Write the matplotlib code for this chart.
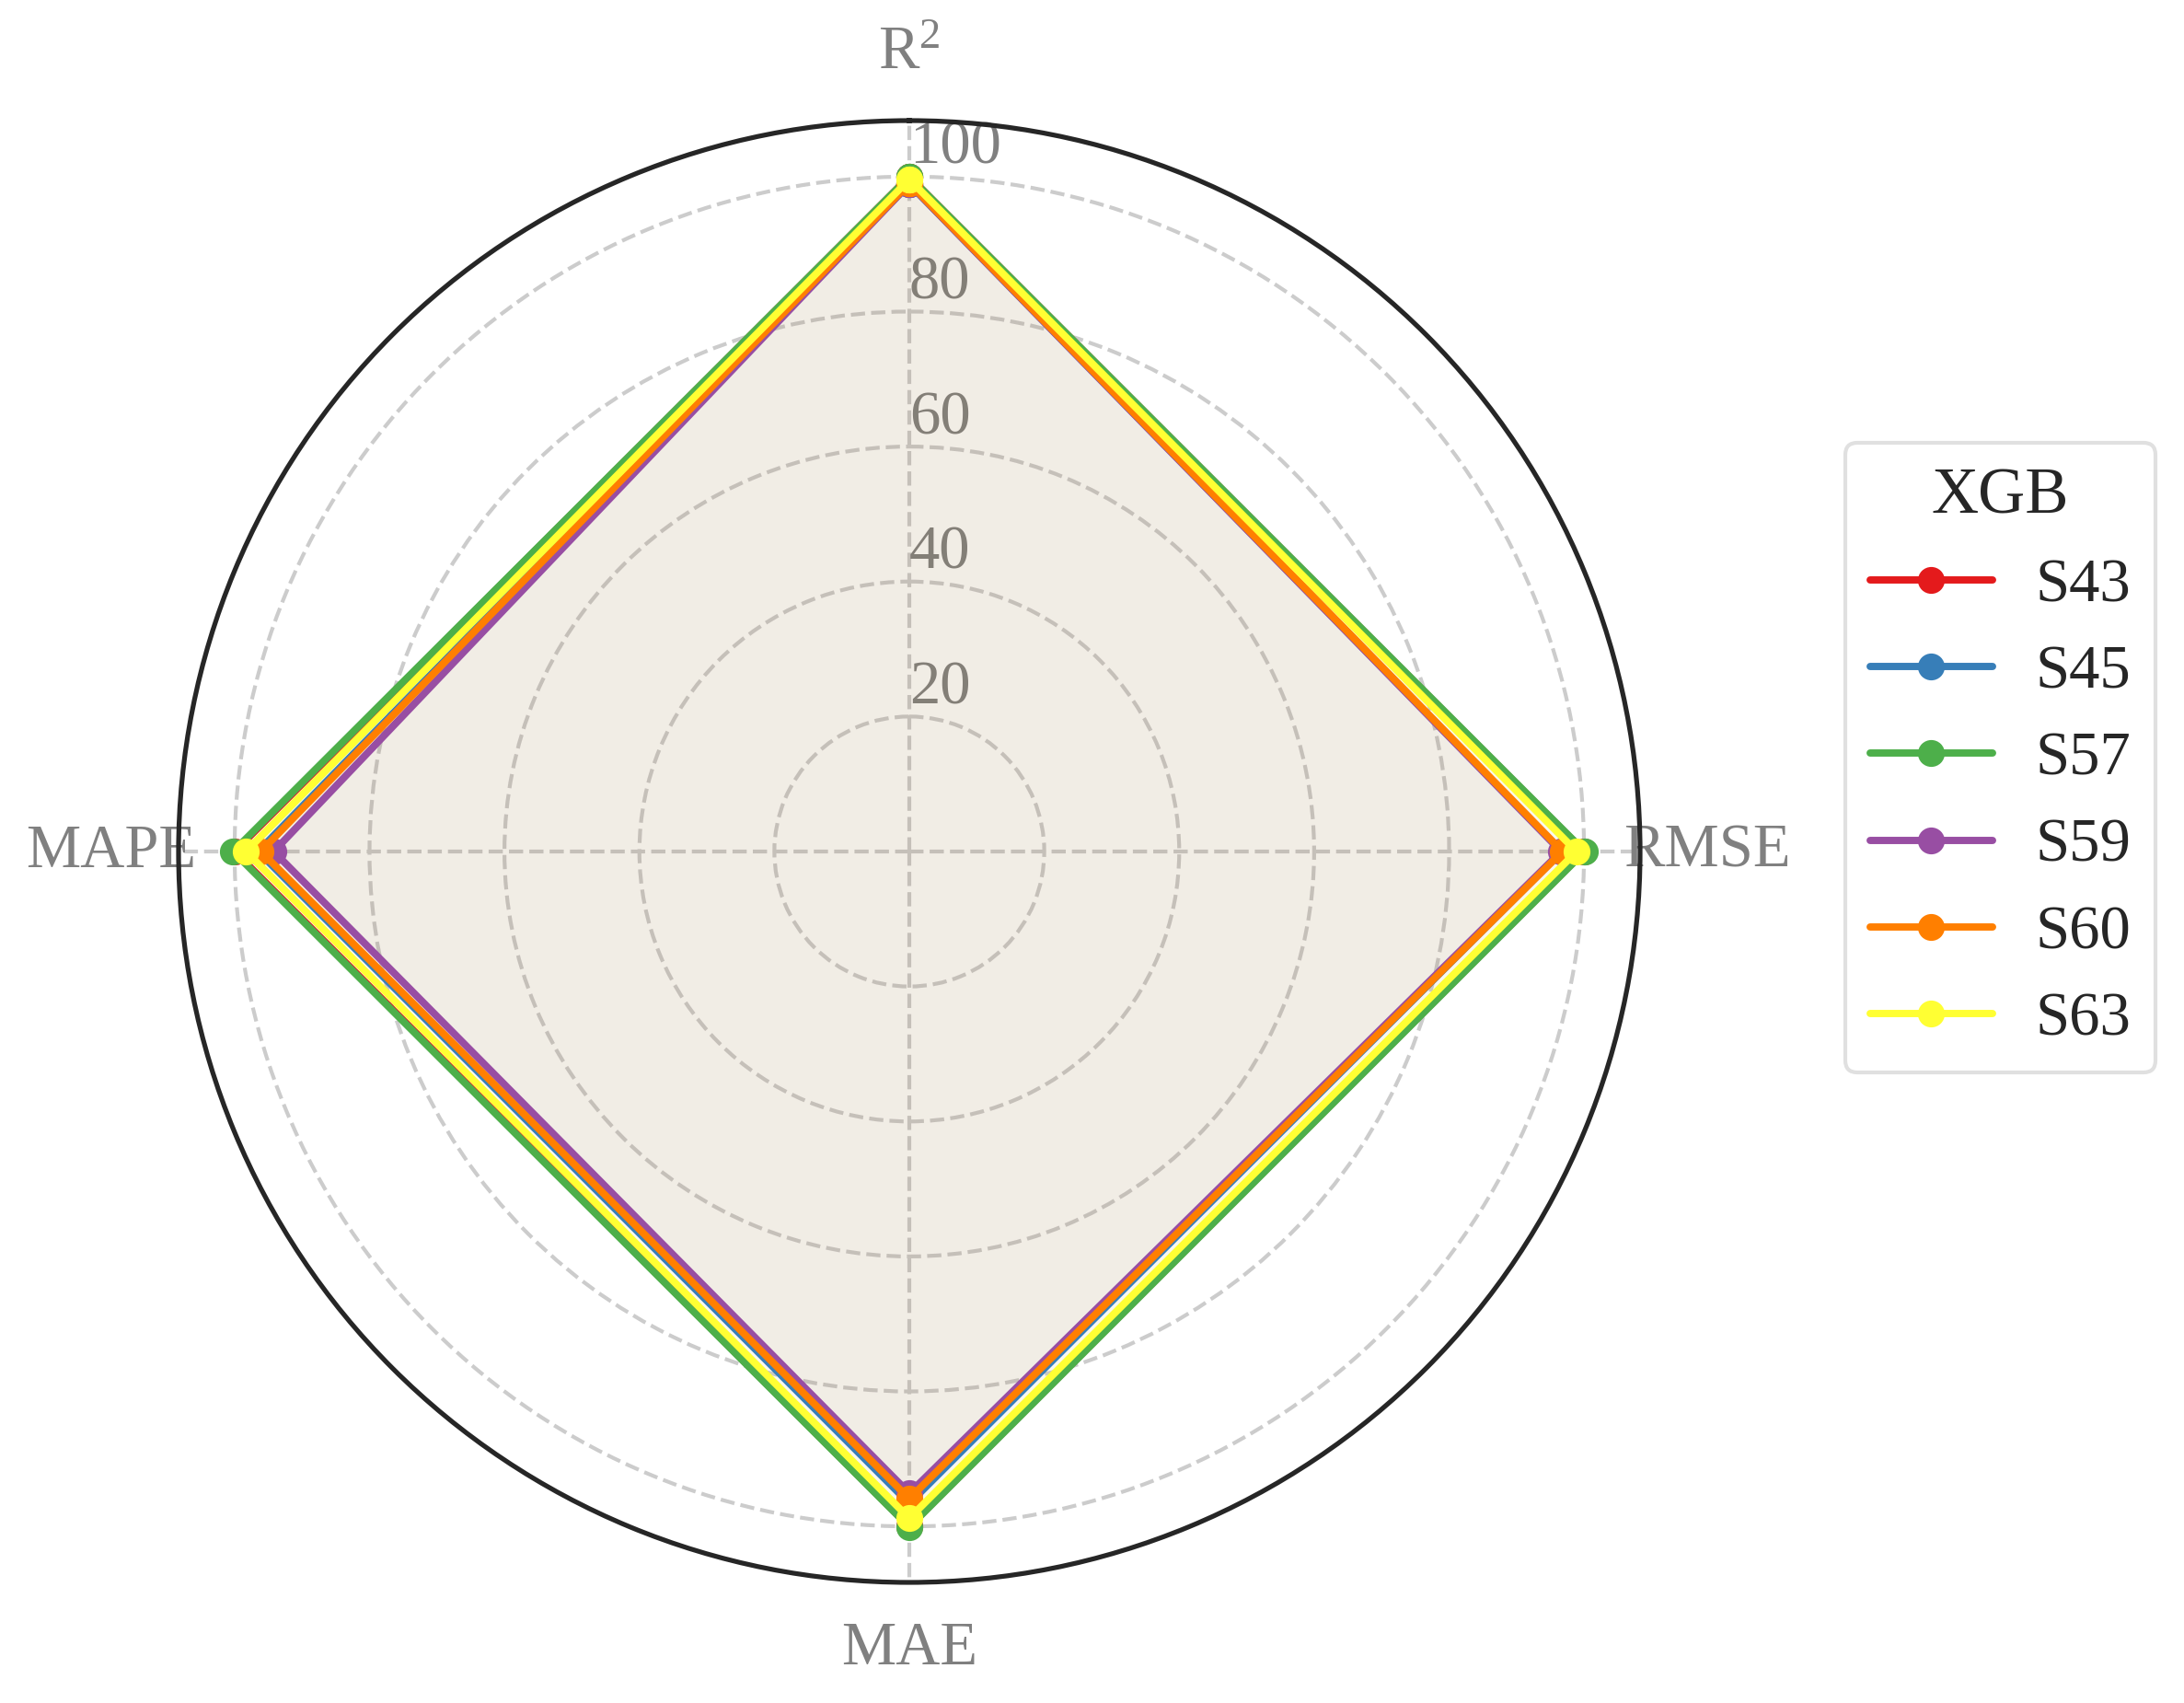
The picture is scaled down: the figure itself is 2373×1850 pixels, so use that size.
import numpy as np
import matplotlib
matplotlib.use("Agg")
import matplotlib.pyplot as plt
import seaborn as sns

# ---- data ----
categories = ["R$^2$", "RMSE", "MAE", "MAPE"]
series_names = ["S43", "S45", "S57", "S59", "S60", "S63"]
s43 = [100.0, 100.0, 100.0, 100.0]
s45 = [98.9, 96.7, 96.6, 96.5]
s57 = [100.0, 100.1, 100.1, 100.2]
s59 = [98.9, 96.6, 95.1, 94.2]
s60 = [99.0, 96.8, 95.9, 96.1]
s63 = [99.6, 98.9, 98.8, 98.3]
series_values = [s43, s45, s57, s59, s60, s63]
colors = ["#e41a1c", "#377eb8", "#4daf4a", "#984ea3", "#ff7f00", "#ffff33"]
r_ticks = [20, 40, 60, 80, 100]
legend_title = "XGB"

sns.set_style("whitegrid")
plt.rcParams["font.family"] = ["Liberation Serif", "DejaVu Serif"]
plt.rcParams["mathtext.fontset"] = "custom"
plt.rcParams["mathtext.rm"] = "Liberation Serif"
plt.rcParams["mathtext.it"] = "Liberation Serif:italic"
plt.rcParams["mathtext.bf"] = "Liberation Serif:bold"

W, H = 2373, 1850
fig = plt.figure(figsize=(W / 300, H / 300), dpi=300)
ax = fig.add_axes([194 / W, (H - 1719) / H, 1588 / W, 1588 / H], polar=True)
ax.set_theta_zero_location("N")
ax.set_theta_direction(-1)

n = len(categories)
angles = np.linspace(0, 2 * np.pi, n, endpoint=False).tolist()
angles_c = angles + angles[:1]

for name, vals, col in zip(series_names, series_values, colors):
    v = list(vals) + [vals[0]]
    ax.plot(angles_c, v, color=col, linewidth=1.9, marker="o", markersize=6,
            label=name, solid_joinstyle="miter")
    ax.fill(angles_c, v, color=col, alpha=0.025)

ax.set_ylim(0, 108.3)
ax.set_yticks(r_ticks)
ax.set_yticklabels([str(t) for t in r_ticks], fontsize=16, color="gray")
ax.set_rlabel_position(0)
ax.set_xticks(angles)
ax.set_xticklabels(categories, fontsize=16, color="gray")
ax.tick_params(axis="x", pad=7)
ax.grid(True, linestyle="--", color="0.8", linewidth=1.0)
ax.spines["polar"].set_color("0.15")
ax.spines["polar"].set_linewidth(1.25)

leg = fig.legend(loc="upper left", bbox_to_anchor=(2005 / W, 1 - 481 / H),
                 borderaxespad=0, fontsize=16, title=legend_title,
                 title_fontsize=17, handlelength=2.0, handletextpad=0.7,
                 labelspacing=0.5, frameon=True, fancybox=True)
leg.get_frame().set_edgecolor("0.85")
leg.get_frame().set_linewidth(1.0)

fig.savefig("out.png", dpi=300)
